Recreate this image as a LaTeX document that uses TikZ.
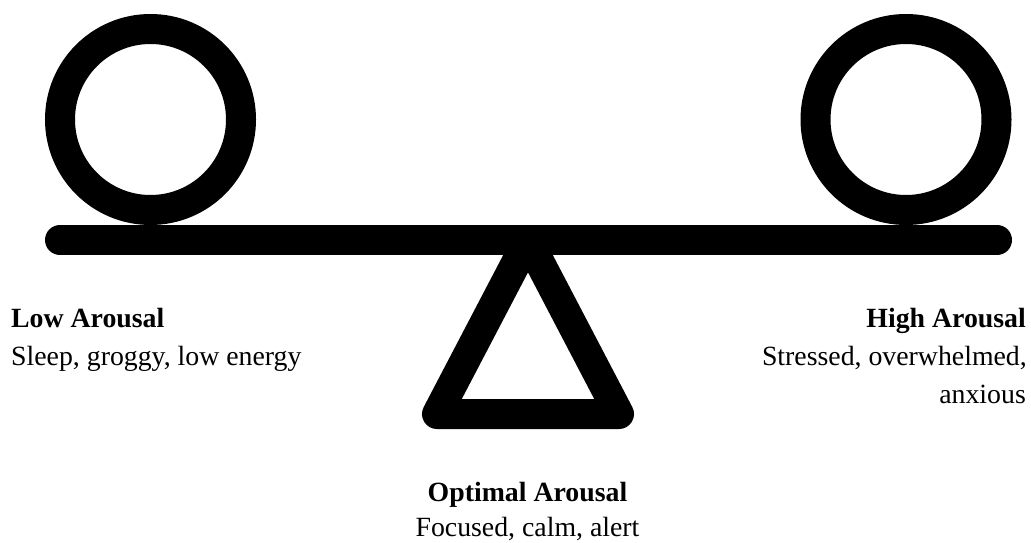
\documentclass[tikz,border=0pt]{standalone}
\usepackage{fontspec}
\setmainfont{Liberation Serif}
\begin{document}
\begin{tikzpicture}[x=1pt,y=-1pt,
  ring/.style={circle,draw=black,line width=30pt,minimum size=181pt,inner sep=0pt},
  beam/.style={draw=black,line width=30pt,line cap=round},
  fulcrum/.style={draw=black,line width=30pt,line join=round},
  title/.style={font=\fontsize{27.8}{38}\selectfont\bfseries,inner sep=0pt},
  desc/.style={font=\fontsize{27.8}{38}\selectfont,inner sep=0pt}]
\useasboundingbox (0,0) rectangle (1031,543);
% balls
\node[ring] (lowball) at (150.5,119.5) {};
\node[ring] (highball) at (906,119.5) {};
% fulcrum
\coordinate (apex) at (528,240);
\coordinate (fl) at (437,414);
\coordinate (fr) at (619,414);
\draw[fulcrum] (apex) -- (fl) -- (fr) -- cycle;
% beam
\coordinate (barL) at (60,240);
\coordinate (barR) at (997,240);
\draw[beam] (barL) -- (barR);
% labels
\node[title,anchor=base west] (lowt) at (11,327) {Low Arousal};
\node[desc,anchor=base west] (lowd) at (11,365) {Sleep, groggy, low energy};
\node[title,anchor=base east] (hight) at (1026,327) {High Arousal};
\node[desc,anchor=base east] (highd1) at (1027,365) {Stressed, overwhelmed,};
\node[desc,anchor=base east] (highd2) at (1026,403) {anxious};
\node[title,anchor=base] (optt) at (527.5,501) {Optimal Arousal};
\node[desc,anchor=base] (optd) at (527.5,536) {Focused, calm, alert};
\end{tikzpicture}
\end{document}
